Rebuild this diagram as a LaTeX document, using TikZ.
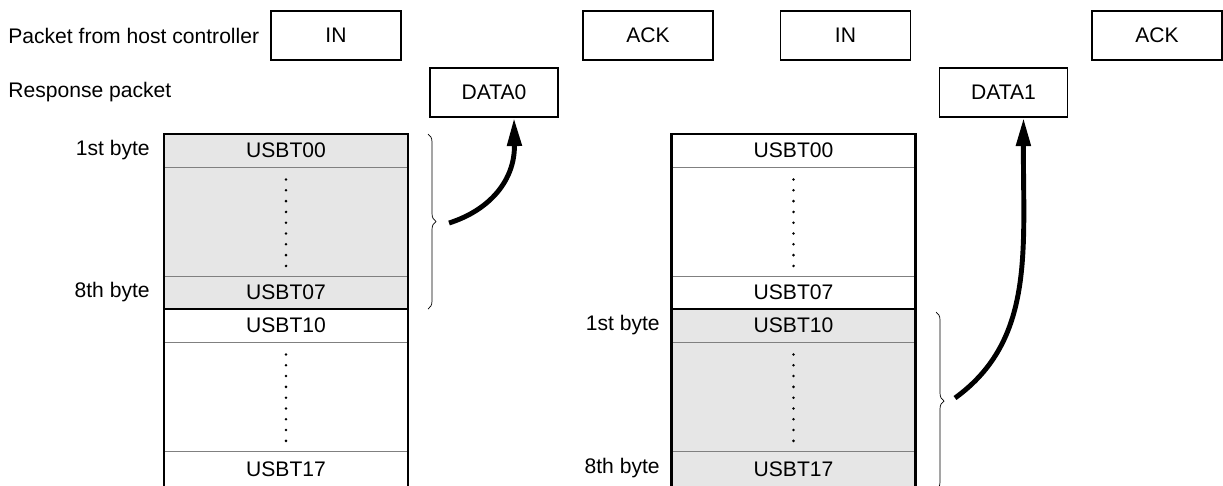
\documentclass[tikz,border=0pt]{standalone}
\usepackage{fontspec}
\setmainfont{Liberation Sans}
\usetikzlibrary{arrows.meta, positioning, calc, decorations.pathreplacing}
\definecolor{bufGray}{RGB}{230,230,230}
\definecolor{lineGray}{RGB}{128,128,128}
\tikzset{
  pk/box/.style={rectangle, draw=black, fill=white, line width=1.1pt,
    minimum width=2.6cm, minimum height=0.98cm, inner sep=0pt},
  pk/data/.style={pk/box, minimum width=2.56cm},
  pk/lbl/.style={inner sep=0pt},
  mem/row/.style={rectangle, draw=lineGray, line width=0.5pt,
    minimum width=4.88cm, minimum height=0.66cm, inner sep=0pt, outer sep=0pt},
  mem/gap/.style={mem/row, minimum height=2.18cm},
  mem/last/.style={mem/row, minimum height=0.72cm},
  mem/used/.style={fill=bufGray},
  mem/frame/.style={line width=1.2pt, draw=black},
  mem/brace/.style={decorate, decoration={brace, amplitude=0.16cm},
    line width=0.4pt},
  mem/arr/.style={-{Triangle[length=16pt,width=8pt]}, line width=2.8pt}
}

\begin{document}
\begin{tikzpicture}[x=0.02cm, y=-0.02cm, font=\fontsize{12}{14}\selectfont]
    \useasboundingbox (0,0) rectangle (1223,485);

    % packets on the bus
    \node[pk/lbl, anchor=west] (hostlbl) at (8,35.5) {Packet from host controller};
    \node[pk/lbl, anchor=west] (resplbl) at (8,92.5) {Response packet};
    \node[pk/box] (in0) at (336,35.5) {IN};
    \node[pk/box] (ack0) at (648,35.5) {ACK};
    \node[pk/box] (in1) at (845.5,35.5) {IN};
    \node[pk/box] (ack1) at (1157,35.5) {ACK};
    \node[pk/data] (d0) at (494,92.5) {DATA0};
    \node[pk/data] (d1) at (1003.5,92.5) {DATA1};

    % left buffer: first 8 bytes sent
    \node[mem/row, mem/used] (a00) at (286,150.5) {USBT00};
    \node[mem/gap, mem/used, below=0pt of a00] (a0x) {};
    \node[mem/row, mem/used, below=0pt of a0x] (a07) {USBT07};
    \node[mem/row, below=0pt of a07] (a10) {USBT10};
    \node[mem/gap, below=0pt of a10] (a1x) {};
    \node[mem/last, below=0pt of a1x] (a17) {USBT17};
    \draw[mem/frame] (a00.north west) rectangle (a17.south east);
    \draw[mem/frame] (a07.south west) -- (a07.south east);

    % right buffer: next 8 bytes sent
    \node[mem/row] (b00) at (793.5,150.5) {USBT00};
    \node[mem/gap, below=0pt of b00] (b0x) {};
    \node[mem/row, below=0pt of b0x] (b07) {USBT07};
    \node[mem/row, mem/used, below=0pt of b07] (b10) {USBT10};
    \node[mem/gap, mem/used, below=0pt of b10] (b1x) {};
    \node[mem/last, mem/used, below=0pt of b1x] (b17) {USBT17};
    \draw[mem/frame] (b00.north west) rectangle (b17.south east);
    \draw[mem/frame] (b07.south west) -- (b07.south east);

    \foreach \g in {a0x,a1x,b0x,b1x}
      \foreach \k in {0,...,8}
        \fill ($(\g.north)+(0,12.5+\k*10.8)$) circle (0.8pt);

    % byte labels
    \node[pk/lbl, anchor=east] (a1st) at (150,150.5) {1st byte};
    \node[pk/lbl, anchor=east] (a8th) at (150,292.5) {8th byte};
    \node[pk/lbl, anchor=east] (b1st) at (660,325.5) {1st byte};
    \node[pk/lbl, anchor=east] (b8th) at (660,468.5) {8th byte};

    % braces and transfers
    \coordinate (bra0top) at (428,134);
    \coordinate (bra0bot) at (428,309);
    \coordinate (bra1top) at (936,312);
    \coordinate (bra1bot) at (936,490);
    \draw[mem/brace] (bra0top) -- (bra0bot);
    \draw[mem/brace] (bra1top) -- (bra1bot);
    \coordinate (tx0) at (449,223);
    \coordinate (tx1) at (955,398);
    \draw[mem/arr] (tx0) .. controls (490,210) and (515,180) .. ($(d0.south)+(20,0)$);
    \draw[mem/arr] (tx1) .. controls (1035,340) and (1023,250) .. ($(d1.south)+(20,0)$);
  \end{tikzpicture}
\end{document}
